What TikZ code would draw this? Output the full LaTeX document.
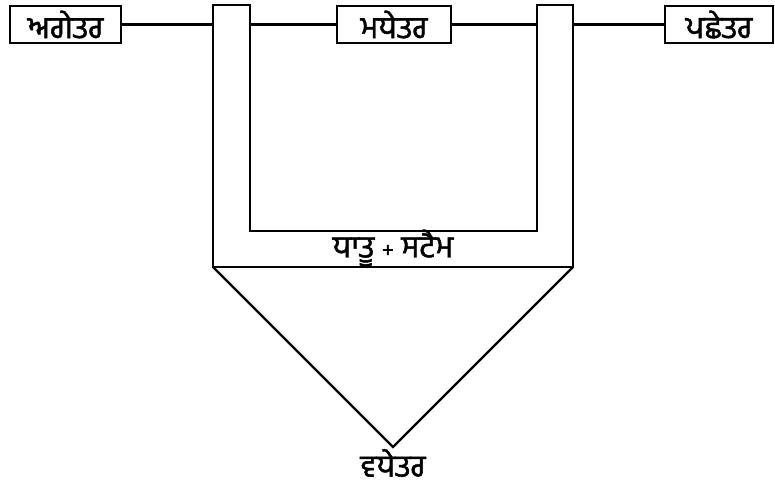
\documentclass[tikz,border=0pt]{standalone}
\usepackage{fontspec}
\newfontfamily\gurfont[Script=Gurmukhi,FakeBold=1.5]{Hind Jalandhar}
\begin{document}
\begin{tikzpicture}[x=1pt,y=-1pt,
  line/.style={line width=2.2pt,black},
  box/.style={draw,line width=2.2pt,minimum width=111pt,minimum height=37pt,inner sep=0pt,font=\gurfont\fontsize{31}{36}\selectfont},
  lbl/.style={inner sep=0pt,font=\gurfont\fontsize{31}{36}\selectfont}]
\useasboundingbox (0,0) rectangle (775,489);
\node[box] (a) at (65.5,24.5) {ਅਗੇਤਰ};
\node[box,minimum width=114pt] (m) at (394,24.5) {ਮਧੇਤਰ};
\node[box,minimum width=108pt] (p) at (719,24.5) {ਪਛੇਤਰ};
\coordinate (ol) at (213,5);
\coordinate (il) at (250,5);
\coordinate (ir) at (537,5);
\coordinate (or) at (573,5);
\coordinate (ib) at (0,231);
\coordinate (ob) at (0,267);
\coordinate (apex) at (393,447);
\draw[line] (ol) -- (il) -- (il |- ib) -- (ir |- ib) -- (ir) -- (or) -- (or |- ob) -- (ol |- ob) -- cycle;
\draw[line] (ol |- ob) -- (apex) -- (or |- ob);
\draw[line] (a.east) -- (ol |- a.east);
\draw[line] (il |- m.west) -- (m.west);
\draw[line] (m.east) -- (ir |- m.east);
\draw[line] (or |- p.west) -- (p.west);
\node[lbl] (s) at (393,248) {ਧਾਤੂ {\fontsize{22}{24}\selectfont +} ਸਟੈਮ};
\node[lbl] (v) at (393,463) {ਵਧੇਤਰ};
\end{tikzpicture}
\end{document}
